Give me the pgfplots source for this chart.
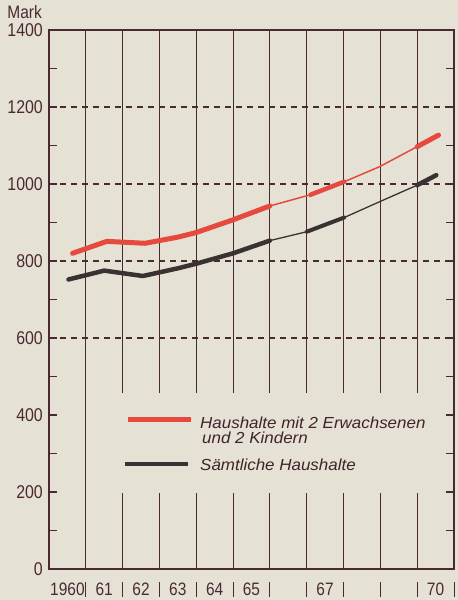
\documentclass[border=0pt]{standalone}
\usepackage{pgfplots}
\pgfplotsset{compat=1.18}
\usepackage{fontspec}
\setmainfont{Liberation Sans}
\newfontfamily\tickfont{Liberation Sans}[FakeStretch=0.86]
\newfontfamily\legfont{Liberation Sans}[FakeStretch=1.06]
\definecolor{bg}{HTML}{E6E1D5}
\definecolor{ink}{HTML}{4A2A30}
\definecolor{redl}{HTML}{E64A3E}
\definecolor{blk}{HTML}{3A3232}
\pgfplotstableread{
x y
1960.14 820
1961.07 851
1962.11 846
1963.0 862
1963.5 874
1964.5 907
1965.5 943
}\redA
\pgfplotstableread{
x y
1965.5 943
1966.6 972
}\redB
\pgfplotstableread{
x y
1966.6 972
1967.52 1006
}\redC
\pgfplotstableread{
x y
1967.52 1006
1968.48 1045
1969.5 1097
}\redD
\pgfplotstableread{
x y
1969.5 1097
1970.08 1127
}\redE
\pgfplotstableread{
x y
1960.03 752
1961.0 775
1962.05 761
1963.0 781
1963.5 793
1964.5 820
1965.5 853
}\blkA
\pgfplotstableread{
x y
1965.5 853
1966.5 876
}\blkB
\pgfplotstableread{
x y
1966.5 876
1967.52 913
}\blkC
\pgfplotstableread{
x y
1967.52 913
1968.48 954
1969.5 997
}\blkD
\pgfplotstableread{
x y
1969.5 997
1970.02 1023
}\blkE
\begin{document}
\begin{tikzpicture}
\fill[bg] (0pt,0pt) rectangle (458pt,600pt);
\path[use as bounding box] (0pt,0pt) rectangle (458pt,600pt);
\begin{axis}[
  at={(49pt,31pt)}, anchor=south west,
  width=405pt, height=539pt, scale only axis,
  xmin=1959.5, xmax=1970.5, ymin=0, ymax=1400,
  clip=false,
  axis line style={ink, line width=1.5pt},
  xtick={1960,...,1970},
  xticklabels={1960,61,62,63,64,65,{},67,{},{},70},
  major x tick style={draw=none},
  x tick label style={font=\tickfont\fontsize{18}{18}\selectfont, text=ink, anchor=base, yshift=-26pt, inner sep=0pt},
  ytick={0,200,...,1400},
  minor ytick={100,300,...,1300},
  tick align=inside,
  major tick length=8pt, minor tick length=8pt,
  every tick/.style={ink, line width=1.1pt},
  y tick label style={font=\tickfont\fontsize{18.5}{18.5}\selectfont, text=ink, anchor=east, inner sep=0pt, xshift=-6pt},
  yticklabel style={/pgf/number format/.cd, fixed, 1000 sep={}},
  /pgf/number format/assume math mode=true,
]
% dashed grid
\pgfplotsinvokeforeach{600,800,1000,1200}{
  \draw[ink, line width=1.2pt, dash pattern=on 6pt off 5pt] (axis cs:1959.5,#1) -- (axis cs:1970.5,#1);
}
% vertical separators
\draw[ink, line width=1pt] (axis cs:1960.5,0) -- (axis cs:1960.5,1400);
\pgfplotsinvokeforeach{1961.5,1962.5,1963.5,1964.5,1965.5,1966.5,1967.5,1968.5,1969.5}{
  \draw[ink, line width=1pt] (axis cs:#1,0) -- (axis cs:#1,198);
  \draw[ink, line width=1pt] (axis cs:#1,457) -- (axis cs:#1,1400);
}
\pgfplotsinvokeforeach{1960.5,1961.5,1962.5,1963.5,1964.5,1965.5,1966.5,1967.5,1968.5,1969.5,1970.5}{
  \draw[ink, line width=1pt] ([yshift=-13pt]axis cs:#1,0) -- ([yshift=-28pt]axis cs:#1,0);
}
% data
\addplot[redl, line width=5pt, line join=round, line cap=round] table {\redA};
\addplot[redl, line width=1.5pt] table {\redB};
\addplot[redl, line width=4.5pt, line join=round, line cap=round] table {\redC};
\addplot[redl, line width=1.5pt] table {\redD};
\addplot[redl, line width=5pt, line join=round, line cap=round] table {\redE};
\addplot[blk, line width=4.5pt, line join=round, line cap=round] table {\blkA};
\addplot[blk, line width=1.3pt] table {\blkB};
\addplot[blk, line width=4pt, line join=round, line cap=round] table {\blkC};
\addplot[blk, line width=1.3pt] table {\blkD};
\addplot[blk, line width=4.5pt, line join=round, line cap=round] table {\blkE};
\end{axis}
\node[anchor=base east, inner sep=0pt, text=ink, font=\tickfont\fontsize{18}{18}\selectfont] at (42pt,581pt) {Mark};
% legend
\draw[redl, line width=5pt] (128pt,180pt) -- (191pt,180pt);
\draw[blk, line width=4.5pt] (125pt,136pt) -- (188pt,136pt);
\node[anchor=base west, inner sep=0pt, align=left, text=ink!85!black, font=\legfont\itshape\fontsize{16}{15.5}\selectfont] at (200pt,156pt) {Haushalte mit 2 Erwachsenen\\\hspace*{2pt}und 2 Kindern};
\node[anchor=base west, inner sep=0pt, text=ink!85!black, font=\legfont\itshape\fontsize{16}{15.5}\selectfont] at (200pt,129pt) {Sämtliche Haushalte};
\end{tikzpicture}
\end{document}
